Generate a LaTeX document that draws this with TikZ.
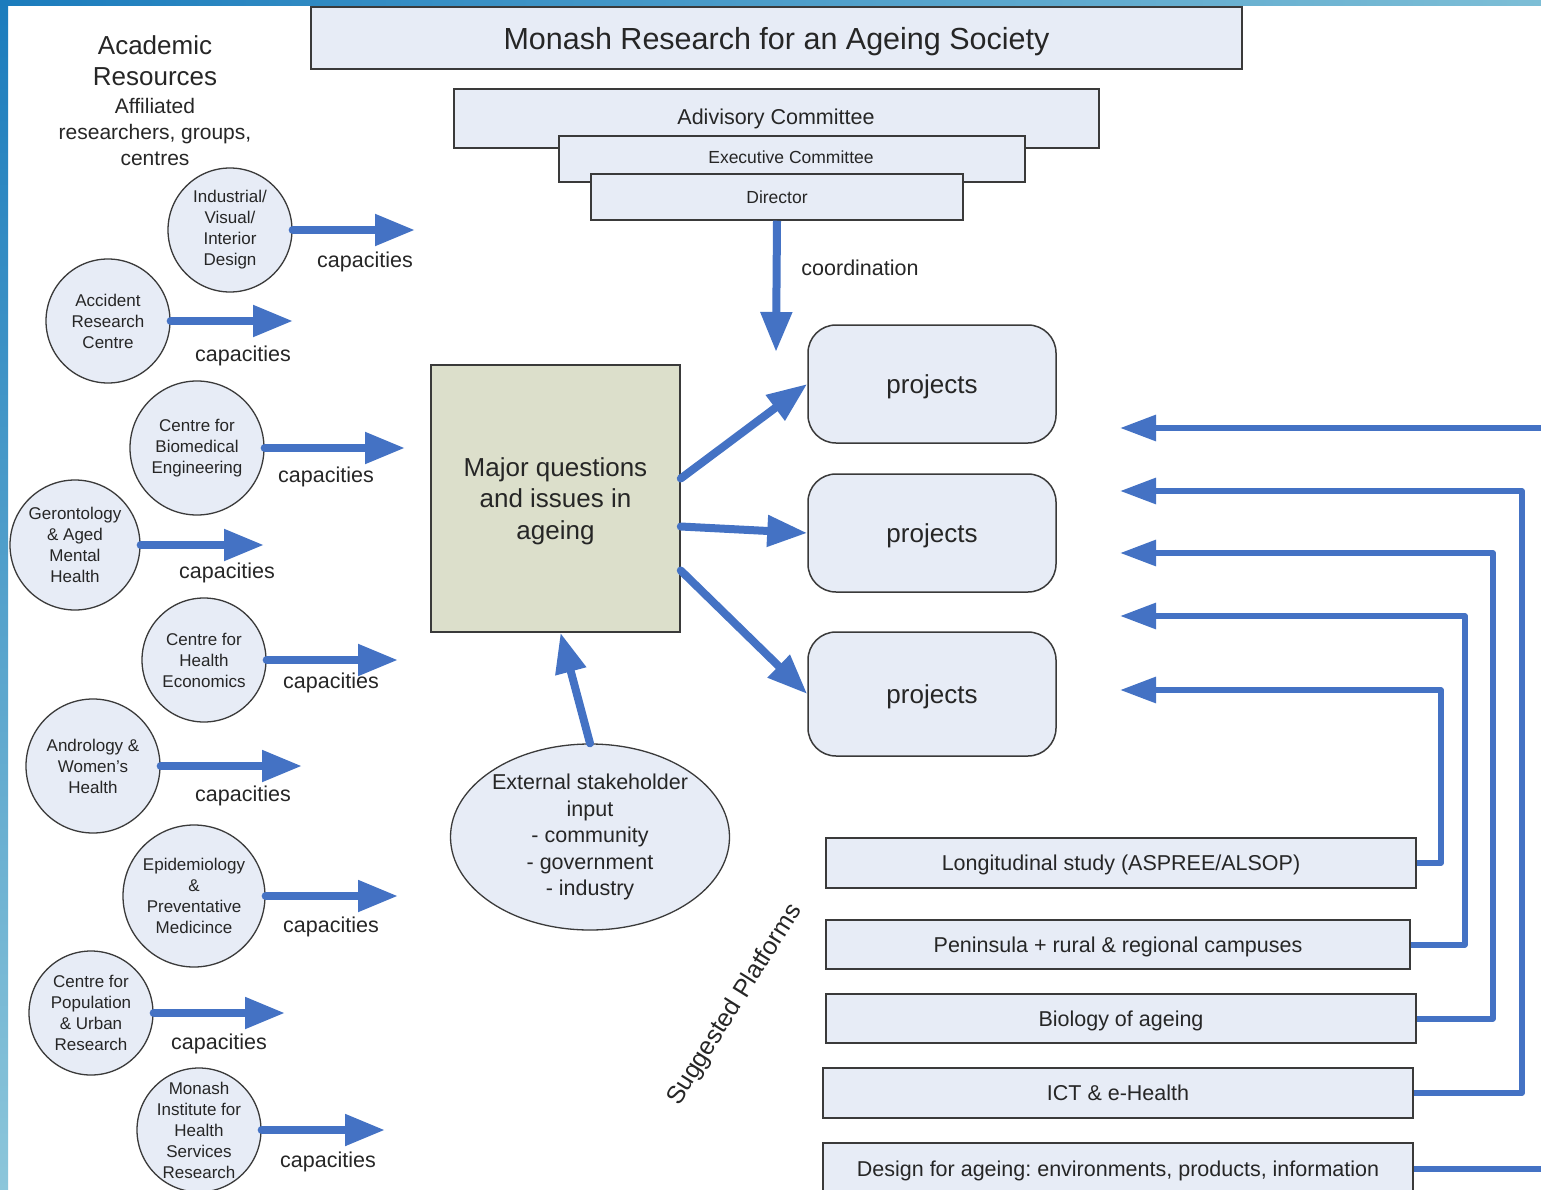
\documentclass[tikz,border=0pt]{standalone}
\usepackage{fontspec}
\setmainfont{Liberation Sans}
\usetikzlibrary{arrows.meta,shapes.geometric}
\definecolor{ablue}{HTML}{4472C4}
\definecolor{boxfill}{HTML}{E7ECF6}
\definecolor{majfill}{HTML}{DCDFCB}
\definecolor{edgec}{HTML}{3A3A3A}
\definecolor{txt}{HTML}{262626}
\definecolor{bordtop}{HTML}{1B7CBD}
\definecolor{bordbot}{HTML}{8CC6DA}
\definecolor{bordright}{HTML}{7DBED6}
\frenchspacing
\begin{document}
\begin{tikzpicture}[x=1pt,y=-1pt,
 box/.style={draw=edgec, line width=1.5pt, fill=boxfill, inner sep=0pt, rectangle, text=txt, text depth=0pt},
 rbox/.style={box, rounded corners=28pt},
 circ/.style={draw=edgec, line width=1.3pt, fill=boxfill, circle, inner sep=0pt},
 ctext/.style={font=\fontsize{17}{21}\selectfont, align=center, text=txt},
 etext/.style={font=\fontsize{21.5}{26.5}\selectfont, align=center, text=txt},
 captext/.style={font=\fontsize{21.5}{26}\selectfont, text=txt, yshift=-2pt},
 pltext/.style={font=\fontsize{21.5}{26}\selectfont},
 fat/.style={draw=ablue, line width=8pt, line cap=round, -{Triangle[length=40pt,width=30pt]}},
 feedarrow/.style={draw=ablue, line width=6pt, line join=round, -{Triangle[length=36pt,width=25pt]}},
]
\useasboundingbox (0,0) rectangle (1541,1190);
\fill[white] (0,0) rectangle (1541,1190);
\shade[top color=bordtop, bottom color=bordbot] (0,0) rectangle (8,1190);
\shade[left color=bordtop, right color=bordright] (0,0) rectangle (1541,6);

% heading
\node[box, line width=2.2pt, minimum width=931pt, minimum height=62pt,
      font=\fontsize{30.5}{36}\selectfont] (title) at (776.5,38) {Monash Research for an Ageing Society};

% committees
\node[box, minimum width=645pt, minimum height=59pt] (adv) at (776.5,118.5) {};
\node[text=txt, font=\fontsize{21.5}{26}\selectfont, text depth=0pt] (advt) at (776,117) {Adivisory Committee};
\node[box, minimum width=466pt, minimum height=46pt] (exe) at (792,159) {};
\node[text=txt, font=\fontsize{17.5}{21}\selectfont, text depth=0pt] (exet) at (791,157) {Executive Committee};
\node[box, minimum width=372pt, minimum height=46pt, font=\fontsize{17.5}{21}\selectfont] (dir) at (777,197) {Director};

\coordinate (coordend) at (776,352);
\draw[fat, line cap=butt] (dir.south) -- (coordend);
\node[captext, yshift=2pt] (coordlbl) at (860,268) {coordination};

% academic resources
\node[align=center, text=txt, font=\fontsize{26}{31}\selectfont] (acad) at (155,61) {Academic\\Resources};
\node[align=center, text=txt, font=\fontsize{21}{26}\selectfont] (affil) at (155,132) {Affiliated\\researchers, groups,\\centres};

% major questions
\node[box, fill=majfill, minimum width=249pt, minimum height=267pt, align=center,
      font=\fontsize{26}{31.5}\selectfont] (major) at (555.5,498.5) {Major questions\\and issues in\\ageing};

% projects
\node[rbox, minimum width=248pt, minimum height=118pt, font=\fontsize{26}{31}\selectfont] (p1) at (932,384) {projects};
\node[rbox, minimum width=248pt, minimum height=118pt, font=\fontsize{26}{31}\selectfont] (p2) at (932,533) {projects};
\node[rbox, minimum width=248pt, minimum height=124pt, font=\fontsize{26}{31}\selectfont] (p3) at (932,694) {projects};

\draw[fat] ([yshift=20pt]major.east) -- (p1.west);
\draw[fat] ([yshift=-28pt]major.east) -- (p2.west);
\draw[fat] ([yshift=-72pt]major.east) -- (p3.west);

% external stakeholders
\node[ellipse, draw=edgec, line width=1.3pt, fill=boxfill, minimum width=279pt, minimum height=186pt, inner sep=0pt,
      label={[etext]center:External stakeholder\\input\\- community\\- government\\- industry}] (ext) at (590,837) {};
\draw[fat] (ext.north) -- ([xshift=5pt]major.south);

% academic units
\node[circ, minimum size=124pt, label={[ctext]center:Industrial/\\Visual/\\Interior\\Design}] (c1) at (230,230) {};
\coordinate (c1e) at (415,230);
\draw[fat] (c1.east) -- (c1e);
\node[captext] (c1c) at (365,260) {capacities};

\node[circ, minimum size=124pt, label={[ctext]center:Accident\\Research\\Centre}] (c2) at (108,321) {};
\coordinate (c2e) at (293,321);
\draw[fat] (c2.east) -- (c2e);
\node[captext] (c2c) at (243,354) {capacities};

\node[circ, minimum size=134pt, label={[ctext]center:Centre for\\Biomedical\\Engineering}] (c3) at (197,448) {};
\coordinate (c3e) at (405,448);
\draw[fat] (c3.east) -- (c3e);
\node[captext] (c3c) at (326,475) {capacities};

\node[circ, minimum size=130pt, label={[ctext]center:Gerontology\\\& Aged\\Mental\\Health}] (c4) at (75,545) {};
\coordinate (c4e) at (264,545);
\draw[fat] (c4.east) -- (c4e);
\node[captext] (c4c) at (227,571) {capacities};

\node[circ, minimum size=124pt, label={[ctext]center:Centre for\\Health\\Economics}] (c5) at (204,660) {};
\coordinate (c5e) at (398,660);
\draw[fat] (c5.east) -- (c5e);
\node[captext] (c5c) at (331,681) {capacities};

\node[circ, minimum size=134pt, label={[ctext]center:Andrology \&\\Women's\\Health}] (c6) at (93,766) {};
\coordinate (c6e) at (302,766);
\draw[fat] (c6.east) -- (c6e);
\node[captext] (c6c) at (243,794) {capacities};

\node[circ, minimum size=142pt, label={[ctext]center:Epidemiology\\\&\\Preventative\\Medicince}] (c7) at (194,896) {};
\coordinate (c7e) at (398,896);
\draw[fat] (c7.east) -- (c7e);
\node[captext] (c7c) at (331,925) {capacities};

\node[circ, minimum size=124pt, label={[ctext]center:Centre for\\Population\\\& Urban\\Research}] (c8) at (91,1013) {};
\coordinate (c8e) at (285,1013);
\draw[fat] (c8.east) -- (c8e);
\node[captext] (c8c) at (219,1042) {capacities};

\node[circ, minimum size=124pt, label={[ctext]center:Monash\\Institute for\\Health\\Services\\Research}] (c9) at (199,1130) {};
\coordinate (c9e) at (385,1130);
\draw[fat] (c9.east) -- (c9e);
\node[captext] (c9c) at (328,1160) {capacities};

% platforms
\node[rotate=58, text=txt, font=\fontsize{25}{30}\selectfont] (sugg) at (735,1005) {Suggested Platforms};

\node[box, pltext, minimum width=590pt, minimum height=50pt] (pl1) at (1121,863) {Longitudinal study (ASPREE/ALSOP)};
\node[box, pltext, minimum width=584pt, minimum height=49pt] (pl2) at (1118,944.5) {Peninsula + rural \& regional campuses};
\node[box, pltext, minimum width=590pt, minimum height=49pt] (pl3) at (1121,1018.5) {Biology of ageing};
\node[box, pltext, minimum width=590pt, minimum height=50pt] (pl4) at (1118,1093) {ICT \& e-Health};
\node[box, pltext, minimum width=590pt, minimum height=52pt] (pl5) at (1118,1169) {Design for ageing: environments, products, information};

\coordinate (f1) at (1120,690);
\coordinate (f2) at (1120,616);
\coordinate (f3) at (1120,553);
\coordinate (f4) at (1120,491);
\coordinate (f5) at (1120,428);
\draw[feedarrow] (pl1.east) -- ++(24,0) |- (f1);
\draw[feedarrow] (pl2.east) -- ++(54,0) |- (f2);
\draw[feedarrow] (pl3.east) -- ++(76,0) |- (f3);
\draw[feedarrow] (pl4.east) -- ++(108,0) |- (f4);
\draw[feedarrow] (pl5.east) -- ++(150,0) |- (f5);
\end{tikzpicture}
\end{document}
